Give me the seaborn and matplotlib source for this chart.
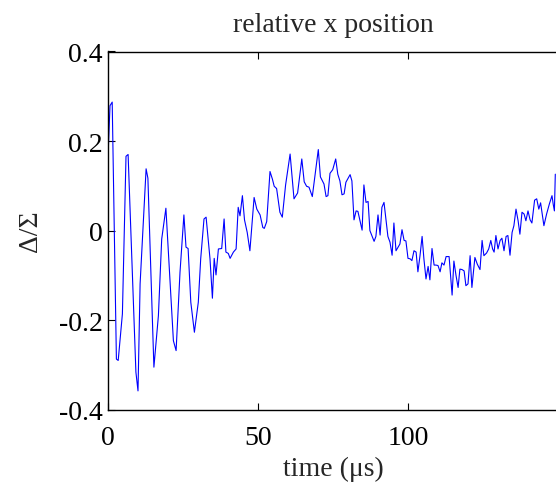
import matplotlib
matplotlib.use("Agg")
import matplotlib.pyplot as plt
import seaborn as sns
import pandas as pd

time_us = [0, 0.67, 1.4, 2.8, 3.4, 4.8, 6.0, 6.7, 9.3, 10.0, 10.7, 12.7, 13.3, 15.3, 16.8, 17.9, 19.3,
           21.8, 22.7, 24.0, 25.3, 26.0, 26.7, 27.6, 28.8, 30.1, 30.9, 32.0, 32.7, 34.0, 34.8, 35.4,
           36.0, 36.8, 37.9, 38.7, 39.3, 40.1, 40.7, 41.8, 42.7, 43.4, 44.0, 44.8, 45.5, 46.4, 47.3,
           48.7, 49.6, 50.7, 51.6, 52.1, 52.9, 54.0, 54.8, 55.4, 56.2, 57.3, 58.1, 59.2, 60.7, 62.0,
           63.2, 64.6, 65.4, 66.2, 67.0, 68.1, 70.1, 70.8, 72.0, 72.7, 73.3, 74.0, 74.9, 75.9, 76.6,
           77.3, 78.0, 78.7, 79.3, 80.7, 81.3, 82.0, 82.7, 83.3, 84.7, 85.3, 86.0, 86.7, 87.3, 88.7,
           89.3, 90.0, 90.7, 91.3, 92.0, 93.3, 94.0, 94.7, 95.3, 96.0, 97.3, 98.0, 98.7, 99.3, 100.0,
           100.7, 101.3, 102.0, 102.7, 103.3, 104.0, 104.7, 105.3, 106.0, 106.7, 107.3, 108.0, 108.7,
           109.3, 110.0, 110.7, 111.3, 112.0, 112.7, 113.7, 114.7, 115.3, 116.0, 116.7, 117.3, 118.0,
           118.7, 119.3, 120.0, 120.7, 121.3, 122.3, 123.1, 124.0, 124.7, 125.3, 126.2, 126.9, 127.6,
           128.2, 128.7, 129.3, 130.0, 130.7, 131.3, 132.0, 132.7, 133.3, 134.0, 134.7, 135.3, 136.0,
           136.7, 137.3, 138.0, 138.7, 139.3, 140.0, 140.7, 141.3, 142.2, 142.9, 143.6, 144.2, 144.9,
           145.3, 146.2, 147.1, 148.0, 148.4, 148.8, 149.1]
delta_sigma = [0.164, 0.279, 0.287, -0.287, -0.29, -0.186, 0.166, 0.17, -0.316, -0.358, -0.119, 0.138,
               0.117, -0.305, -0.19, -0.019, 0.05, -0.246, -0.268, -0.093, 0.035, -0.037, -0.04, -0.16,
               -0.227, -0.16, -0.063, 0.026, 0.03, -0.063, -0.151, -0.062, -0.099, -0.041, -0.04, 0.026,
               -0.048, -0.051, -0.062, -0.048, -0.041, 0.052, 0.033, 0.078, 0.024, -0.004, -0.045, 0.074,
               0.048, 0.035, 0.007, 0.005, 0.02, 0.132, 0.115, 0.099, 0.094, 0.041, 0.03, 0.102, 0.171,
               0.071, 0.084, 0.16, 0.109, 0.099, 0.097, 0.076, 0.181, 0.12, 0.104, 0.076, 0.078, 0.128,
               0.136, 0.16, 0.126, 0.111, 0.08, 0.082, 0.108, 0.125, 0.111, 0.024, 0.044, 0.043, 0.001,
               0.102, 0.063, 0.065, 0.0, -0.024, -0.013, 0.035, -0.01, 0.052, 0.063, -0.013, -0.026,
               -0.055, 0.017, -0.045, -0.03, 0.002, -0.022, -0.023, -0.062, -0.063, -0.067, -0.045,
               -0.048, -0.092, -0.056, -0.013, -0.063, -0.108, -0.08, -0.11, -0.04, -0.077, -0.077,
               -0.078, -0.092, -0.072, -0.077, -0.058, -0.058, -0.144, -0.068, -0.1, -0.127, -0.086,
               -0.087, -0.09, -0.123, -0.119, -0.056, -0.127, -0.06, -0.075, -0.087, -0.022, -0.056,
               -0.05, -0.041, -0.022, -0.041, -0.048, -0.011, -0.041, -0.022, -0.017, -0.045, -0.013,
               -0.011, -0.055, -0.004, 0.011, 0.048, 0.022, -0.008, 0.041, 0.037, 0.022, 0.044, 0.024,
               0.017, 0.068, 0.071, 0.048, 0.062, 0.03, 0.011, 0.037, 0.059, 0.078, 0.059, 0.044, 0.126]

x_ticks = [0, 50, 100]
x_tick_labels = ["0", "50", "100"]
y_ticks = [-0.4, -0.2, 0, 0.2, 0.4]
y_tick_labels = ["-0.4", "-0.2", "0", "0.2", "0.4"]

sns.set_style("white")
plt.rcParams["font.family"] = ["Liberation Serif", "DejaVu Serif"]

df = pd.DataFrame({"time": time_us, "ds": delta_sigma})

fig = plt.figure(figsize=(5.56, 4.85), dpi=100)
ax = fig.add_axes([108 / 556, 1 - 410.7 / 485, 450 / 556, (410.7 - 52.5) / 485])
sns.lineplot(data=df, x="time", y="ds", ax=ax, color="#0000ff", linewidth=0.8,
             sort=False, estimator=None)

ax.set_xlim(0, 150)
ax.set_ylim(-0.4, 0.4)
ax.set_xticks(x_ticks)
ax.set_xticklabels(x_tick_labels)
ax.set_yticks(y_ticks)
ax.set_yticklabels(y_tick_labels)
ax.tick_params(direction="in", length=5, width=0.8, colors="black", labelsize=20,
               top=True, right=False, bottom=True, left=True)
ax.tick_params(axis="x", pad=11)
ax.tick_params(axis="y", pad=4)
for s in ax.spines.values():
    s.set_color("black")
    s.set_linewidth(1.0)
ax.spines["right"].set_visible(False)

ax.set_title("relative x position", fontsize=20, pad=15)
ax.set_xlabel("time (μs)", fontsize=20, labelpad=4)
ax.set_ylabel("Δ/Σ", fontsize=20, labelpad=11)

fig.savefig("out.png", dpi=100)
